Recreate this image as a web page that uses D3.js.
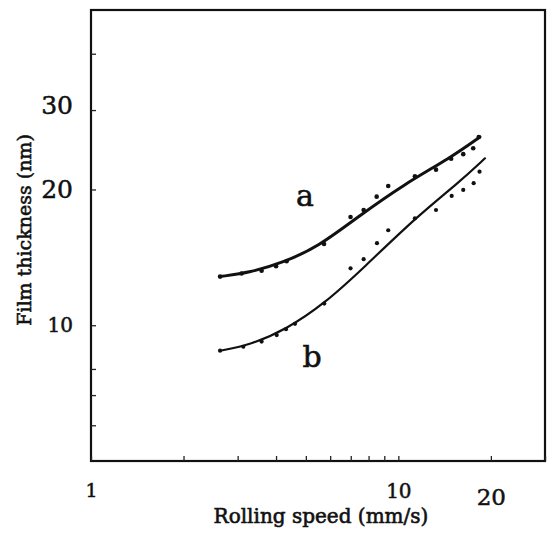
<!DOCTYPE html>
<meta charset="utf-8">
<style>
body { margin: 0; background: #fff; }
svg { display: block; }
.frame { fill: none; stroke: #111; stroke-width: 2.2px; }
.axis path { display: none; }
.axis line { stroke: #222; stroke-width: 1.3px; }
.axis text { font-family: "DejaVu Serif", serif; fill: #111; stroke: #111; stroke-width: 0.5px; }
.title { font-family: "DejaVu Serif", serif; fill: #111; stroke: #111; stroke-width: 0.6px; }
.fit { fill: none; stroke: #111; stroke-linecap: round; }
.dot { fill: #111; }
</style>
<body>
<svg width="548" height="539"></svg>
<script src="https://cdnjs.cloudflare.com/ajax/libs/d3/7.8.5/d3.min.js"></script>
<script>

// measured points, rolling speed (mm/s) vs film thickness (nm)
var speedA = [2.63, 3.09, 3.59, 4.00, 4.33, 5.73, 6.99, 7.71, 8.50, 9.27, 11.32, 13.26, 14.85, 16.26, 17.52, 18.26];
var thickA = [12.82, 13.02, 13.21, 13.51, 13.86, 15.14, 17.38, 18.01, 19.28, 20.36, 21.39, 22.13, 23.39, 23.95, 24.68, 26.15];

var speedB = [2.63, 3.13, 3.59, 4.02, 4.31, 4.61, 5.74, 6.99, 7.71, 8.52, 9.27, 11.32, 13.26, 14.91, 16.26, 17.58, 18.37];
var thickB = [8.78, 8.96, 9.20, 9.51, 9.80, 10.07, 11.17, 13.37, 14.01, 15.20, 16.24, 17.26, 18.01, 19.35, 19.95, 20.65, 21.90];

// fitted curves
var fitSpeedA = [2.63, 2.63, 3.3, 4.2, 5.5, 7.3, 10.5, 14.7, 18.43, 18.43];
var fitThickA = [12.82, 12.82, 13.1, 13.75, 14.95, 17.3, 20.6, 23.45, 26.15, 26.15];

var fitSpeedB = [2.63, 2.63, 3.3, 4.33, 5.77, 7.69, 11.47, 15.86, 19.13, 19.13];
var fitThickB = [8.78, 8.78, 9.05, 9.8, 11.19, 13.38, 17.41, 20.82, 23.45, 23.45];

var xTicks = [1, 2, 3, 4, 5, 6, 7, 8, 9, 10, 20, 30];
var xLabels = [1, 10, 20];
var yTicks = [6, 7, 8, 10, 20, 30, 40];
var yLabels = [10, 20, 30];

var svg = d3.select("svg");

var x = d3.scaleLog().domain([1, 30]).range([91, 545]);
var y = d3.scaleLog().domain([5, 50]).range([461, 10]);

svg.append("rect")
  .attr("class", "frame")
  .attr("x", x(1)).attr("y", y(50))
  .attr("width", x(30) - x(1)).attr("height", y(5) - y(50));

// x axis, ticks pointing inward
var xAxis = svg.append("g")
  .attr("class", "axis")
  .attr("transform", "translate(0," + y(5) + ")")
  .call(d3.axisBottom(x).tickValues(xTicks).tickSizeInner(-5).tickSizeOuter(0).tickPadding(22)
    .tickFormat(function(d) { return xLabels.indexOf(d) >= 0 ? d : ""; }));

xAxis.selectAll("text")
  .style("font-size", function(d) { return d == 20 ? "23px" : (d == 10 ? "20px" : "19px"); })
  .attr("dy", function(d) { return d == 20 ? "0.95em" : "0.74em"; });

var yAxis = svg.append("g")
  .attr("class", "axis")
  .attr("transform", "translate(" + x(1) + ",0)")
  .call(d3.axisLeft(y).tickValues(yTicks).tickSizeInner(-5).tickSizeOuter(0).tickPadding(18)
    .tickFormat(function(d) { return yLabels.indexOf(d) >= 0 ? d : ""; }));

yAxis.selectAll("text")
  .style("font-size", function(d) { return d == 10 ? "20px" : "25px"; })
  .attr("dy", function(d) { return d == 30 ? "0.15em" : "0.32em"; });

// fitted lines
var line = d3.line()
  .x(function(d) { return x(d[0]); })
  .y(function(d) { return y(d[1]); })
  .curve(d3.curveBasis);

svg.append("path")
  .attr("class", "fit")
  .attr("stroke-width", 3)
  .attr("d", line(d3.zip(fitSpeedA, fitThickA)));

svg.append("path")
  .attr("class", "fit")
  .attr("stroke-width", 2.2)
  .attr("d", line(d3.zip(fitSpeedB, fitThickB)));

// data points
svg.selectAll(".dotA")
  .data(d3.zip(speedA, thickA))
  .enter().append("circle")
  .attr("class", "dot")
  .attr("cx", function(d) { return x(d[0]); })
  .attr("cy", function(d) { return y(d[1]); })
  .attr("r", 2.3);

svg.selectAll(".dotB")
  .data(d3.zip(speedB, thickB))
  .enter().append("circle")
  .attr("class", "dot")
  .attr("cx", function(d) { return x(d[0]); })
  .attr("cy", function(d) { return y(d[1]); })
  .attr("r", 2.1);

// curve labels
svg.append("text").attr("class", "title")
  .attr("x", 305).attr("y", 206)
  .attr("text-anchor", "middle")
  .style("font-size", "30px")
  .text("a");

svg.append("text").attr("class", "title")
  .attr("x", 312).attr("y", 367)
  .attr("text-anchor", "middle")
  .style("font-size", "30px")
  .text("b");

// axis titles
svg.append("text").attr("class", "title")
  .attr("x", 321).attr("y", 523)
  .attr("text-anchor", "middle")
  .style("font-size", "20px")
  .text("Rolling speed (mm/s)");

svg.append("text").attr("class", "title")
  .attr("transform", "translate(31,230) rotate(-90)")
  .attr("text-anchor", "middle")
  .style("font-size", "19px")
  .text("Film thickness (nm)");

</script>
